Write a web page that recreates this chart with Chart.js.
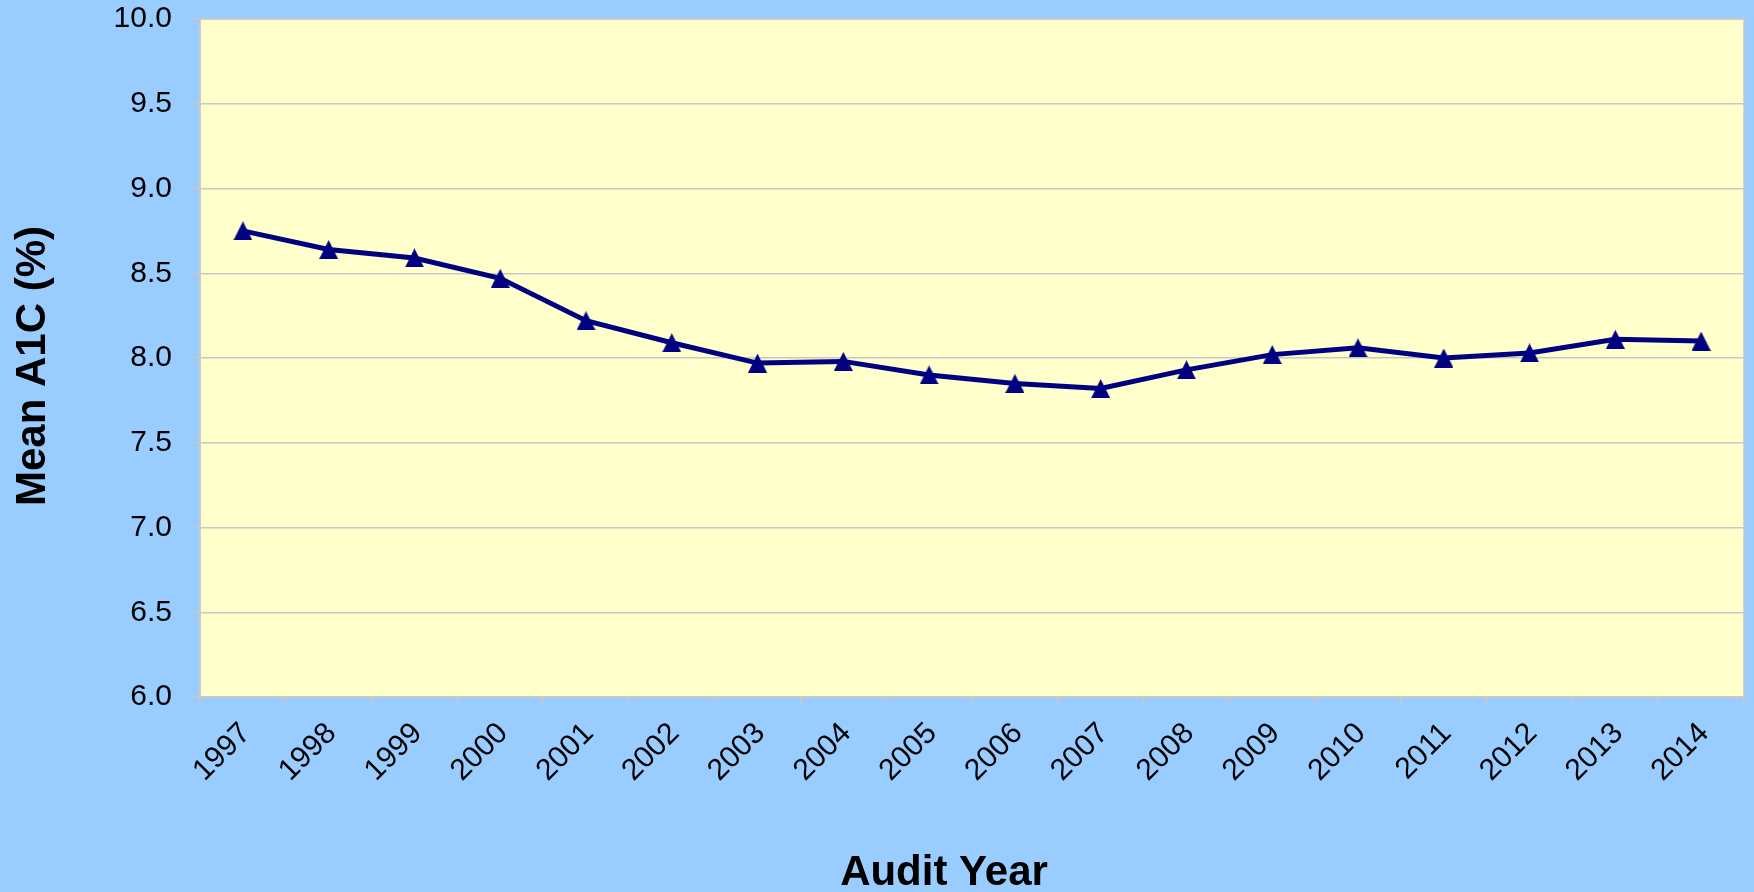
<!DOCTYPE html>
<html>
<head>
<meta charset="utf-8">
<script src="https://cdn.jsdelivr.net/npm/chart.js@4/dist/chart.umd.min.js"></script>
<style>
  html, body { margin: 0; padding: 0; background: #99CCFF; }
  #wrap { width: 1754px; height: 892px; }
  canvas { display: block; }
</style>
</head>
<body>
<div id="wrap"><canvas id="c" width="1754" height="892"></canvas></div>
<script>
// ---- data ----
const years = ["1997","1998","1999","2000","2001","2002","2003","2004","2005","2006","2007","2008","2009","2010","2011","2012","2013","2014"];
const meanA1C = [8.75, 8.64, 8.59, 8.47, 8.22, 8.09, 7.97, 7.98, 7.90, 7.85, 7.82, 7.93, 8.02, 8.06, 8.00, 8.03, 8.11, 8.10];
const yMin = 6.0;
const yMax = 10.0;
const yStep = 0.5;
const xTitle = "Audit Year";
const yTitle = "Mean A1C (%)";

const FONT = "'Liberation Sans', Arial, sans-serif";

// triangle marker (Excel-like, as tall as it is wide)
const triMarker = document.createElement('canvas');
triMarker.width = 19;
triMarker.height = 19;
(function () {
  const g = triMarker.getContext('2d');
  g.fillStyle = '#000080';
  g.beginPath();
  g.moveTo(9.5, 0);
  g.lineTo(19, 19);
  g.lineTo(0, 19);
  g.closePath();
  g.fill();
})();

const bgPlugin = {
  id: 'bgPlugin',
  beforeDraw(chart) {
    const {ctx, chartArea: a} = chart;
    ctx.save();
    ctx.fillStyle = '#99CCFF';
    ctx.fillRect(0, 0, chart.width, chart.height);
    ctx.fillStyle = '#FFFFCC';
    ctx.fillRect(a.left, a.top, a.right - a.left, a.bottom - a.top);
    ctx.restore();
  },
  beforeDatasetsDraw(chart) {
    const {ctx, chartArea: a} = chart;
    ctx.save();
    ctx.strokeStyle = '#C8C8C8';
    ctx.lineWidth = 1.5;
    ctx.strokeRect(a.left, a.top, a.right - a.left, a.bottom - a.top);
    ctx.restore();
  },
  afterDraw(chart) {
    const {ctx, chartArea: a} = chart;
    ctx.save();
    ctx.fillStyle = '#000000';
    ctx.font = "bold 42px " + FONT;
    ctx.textBaseline = 'alphabetic';
    ctx.textAlign = 'center';
    // x-axis title
    ctx.fillText(xTitle, (a.left + a.right) / 2 - 28, chart.height - 7);
    // y-axis title
    ctx.translate(45, (a.top + a.bottom) / 2 + 8);
    ctx.rotate(-Math.PI / 2);
    ctx.fillText(yTitle, 0, 0);
    ctx.restore();
  }
};

new Chart(document.getElementById('c'), {
  type: 'line',
  data: {
    labels: years,
    datasets: [{
      data: meanA1C,
      borderColor: '#000080',
      backgroundColor: '#000080',
      borderWidth: 5,
      tension: 0,
      pointStyle: triMarker,
      pointRadius: 10,
      pointHoverRadius: 10,
      pointBorderWidth: 0,
      pointBackgroundColor: '#000080',
      pointBorderColor: '#000080',
      fill: false
    }]
  },
  options: {
    responsive: false,
    animation: false,
    devicePixelRatio: 1,
    layout: { padding: { top: 19, right: 7, left: 0, bottom: 0 } },
    plugins: {
      legend: { display: false },
      tooltip: { enabled: false },
      title: { display: false }
    },
    scales: {
      x: {
        type: 'category',
        offset: true,
        afterFit(scale) {
          scale.height = 195;
          scale.paddingLeft = 0;
          scale.paddingRight = 0;
        },
        grid: {
          offset: true,
          drawOnChartArea: false,
          drawTicks: true,
          tickLength: 9,
          color: '#C8C8C8',
          lineWidth: 1.5
        },
        border: { display: true, color: '#C8C8C8', width: 1.5 },
        ticks: {
          autoSkip: false,
          minRotation: 45,
          maxRotation: 45,
          labelOffset: 3,
          padding: 10,
          color: '#000000',
          font: { family: FONT, size: 30 }
        },
        title: { display: false }
      },
      y: {
        min: yMin,
        max: yMax,
        afterFit(scale) {
          scale.width = 200;
          scale.paddingTop = 0;
          scale.paddingBottom = 0;
        },
        grid: {
          color: '#C8C8C8',
          lineWidth: 1.5,
          drawTicks: true,
          tickLength: 10
        },
        border: { display: true, color: '#C8C8C8', width: 1.5 },
        ticks: {
          stepSize: yStep,
          padding: 18,
          color: '#000000',
          font: { family: FONT, size: 30 },
          callback: (v) => Number(v).toFixed(1)
        },
        title: { display: false }
      }
    }
  },
  plugins: [bgPlugin]
});
</script>
</body>
</html>
